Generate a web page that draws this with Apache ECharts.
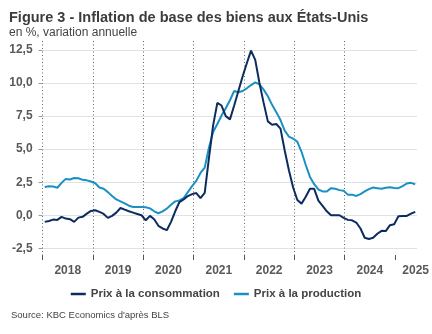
<!DOCTYPE html>
<html>
<head>
<meta charset="utf-8">
<script src="https://cdn.jsdelivr.net/npm/echarts@6/dist/echarts.min.js"></script>
<style>
  html, body { margin: 0; padding: 0; background: #ffffff; }
  #chart { width: 432px; height: 334px; }
</style>
</head>
<body>
<div id="chart"></div>
<script>
// Monthly year-on-year change (%), January 2018 to May 2025
const firstYear = 2018;

const consumption = [
  -0.5, -0.43, -0.33, -0.35, -0.12, -0.25, -0.3, -0.5, -0.18, -0.12, 0.12, 0.33,
  0.38, 0.25, 0.1, -0.2, -0.05, 0.2, 0.55, 0.43, 0.3, 0.2, 0.1, 0.0,
  -0.38, -0.05, -0.3, -0.8, -1.0, -1.13, -0.5, 0.3, 1.0, 1.2, 1.45, 1.6,
  1.68, 1.3, 1.7, 4.3, 6.8, 8.5, 8.3, 7.5, 7.25, 8.3, 9.4, 10.5,
  11.5, 12.45, 11.75, 10.0, 8.5, 7.1, 6.85, 6.9, 6.55, 4.9, 3.4, 2.1,
  1.15, 0.88, 1.4, 2.0, 2.0, 1.1, 0.7, 0.3, 0.0, 0.0, 0.0, -0.2,
  -0.35, -0.38, -0.55, -1.0, -1.7, -1.8, -1.7, -1.4, -1.18, -1.2, -0.75, -0.68,
  -0.08, -0.06, -0.05, 0.12, 0.25
];

const production = [
  2.14, 2.2, 2.18, 2.08, 2.45, 2.75, 2.7, 2.82, 2.8, 2.68, 2.64, 2.55,
  2.42, 2.1, 2.0, 1.75, 1.45, 1.2, 1.05, 0.9, 0.72, 0.63, 0.63, 0.63,
  0.6, 0.52, 0.3, 0.15, 0.3, 0.5, 0.8, 1.05, 1.12, 1.3, 1.75, 2.2,
  2.6, 3.2, 3.6, 5.1, 6.3, 6.9, 7.55, 8.1, 8.7, 9.4, 9.3, 9.4,
  9.6, 9.85, 10.05, 9.9, 9.5, 9.0, 8.35, 7.8, 7.2, 6.4, 5.95, 5.8,
  5.55, 4.8, 3.8, 2.9, 2.35, 1.95, 1.8, 1.8, 2.05, 2.0, 1.9, 1.85,
  1.56, 1.56, 1.46, 1.6, 1.8, 1.98, 2.1, 2.05, 2.0, 2.08, 2.12, 2.06,
  2.05, 2.2, 2.4, 2.45, 2.35
];

const yearTicks = [2018, 2019, 2020, 2021, 2022, 2023, 2024, 2025];
const valueTicks = [-2.5, 0, 2.5, 5, 7.5, 10, 12.5];

const seriesNames = ['Prix à la consommation', 'Prix à la production'];
const colors = ['#0c2c5f', '#1b90c5'];

// each monthly value sits in the middle of its month
const toPoints = arr => arr.map((v, i) => [firstYear + (i + 0.5) / 12, v]);

const xMin = 2018;
const xMax = 2025.41;
// year labels centred on each year, the last one held inside the plot
const yearLabelValues = yearTicks.map(y => Math.min(y + 0.5, xMax));

const labelFont = 'Liberation Sans, Arial, sans-serif';

const chart = echarts.init(document.getElementById('chart'), null, { renderer: 'canvas' });

chart.setOption({
  animation: false,
  backgroundColor: '#ffffff',
  graphic: [
    { type: 'text', left: 9, top: 10,
      style: { text: 'Figure 3 - Inflation de base des biens aux États-Unis',
               font: 'bold 14.5px ' + labelFont, fill: '#3c3c3c' } },
    { type: 'text', left: 9, top: 27,
      style: { text: 'en %, variation annuelle',
               font: '12px ' + labelFont, fill: '#444444' } },
    { type: 'text', left: 11, top: 310,
      style: { text: "Source: KBC Economics d'après BLS",
               font: '9.5px ' + labelFont, fill: '#444444' } }
  ],
  legend: {
    left: 'center',
    top: 283,
    icon: 'rect',
    itemWidth: 15,
    itemHeight: 2.5,
    itemGap: 14,
    textStyle: { fontFamily: labelFont, fontWeight: 'bold', fontSize: 11.5, color: '#444444' },
    data: seriesNames
  },
  grid: [
    { left: 42.6, right: 15, top: 50, height: 198.3, containLabel: false },
    { left: 42.6, right: 15, top: 41, height: 214, containLabel: false }
  ],
  xAxis: [
    {
      gridIndex: 0, type: 'value', min: xMin, max: xMax,
      axisLine: { show: false }, axisTick: { show: false },
      axisLabel: { show: false }, splitLine: { show: false }
    },
    {
      gridIndex: 1, type: 'value', min: xMin, max: xMax, interval: 1,
      axisLine: { show: false },
      axisTick: { show: true, length: 5, customValues: yearTicks,
                  lineStyle: { color: '#555555', width: 1 } },
      axisLabel: {
        show: true, margin: 10, customValues: yearLabelValues,
        formatter: v => String(Math.floor(v)),
        fontFamily: labelFont, fontWeight: 'bold', fontSize: 12, color: '#595959'
      },
      splitLine: { show: true, showMaxLine: false,
                   lineStyle: { type: [1, 2.5], color: '#666666', width: 1 } }
    }
  ],
  yAxis: [
    {
      gridIndex: 0, type: 'value', min: -2.5, max: 12.5, interval: 2.5,
      axisLine: { show: false },
      axisTick: { show: true, length: 4, lineStyle: { color: '#9a9a9a' } },
      axisLabel: {
        margin: 10,
        formatter: v => v.toFixed(1).replace('.', ','),
        fontFamily: labelFont, fontWeight: 'bold', fontSize: 12, color: '#595959'
      },
      splitLine: { show: true, lineStyle: { color: '#e2e2e2', width: 1 } }
    },
    {
      gridIndex: 1, type: 'value', min: 0, max: 1, show: false
    }
  ],
  series: [
    {
      name: seriesNames[0], type: 'line', xAxisIndex: 0, yAxisIndex: 0,
      data: toPoints(consumption), showSymbol: false, symbol: 'none',
      lineStyle: { color: colors[0], width: 2 }, itemStyle: { color: colors[0] }, z: 4
    },
    {
      name: seriesNames[1], type: 'line', xAxisIndex: 0, yAxisIndex: 0,
      data: toPoints(production), showSymbol: false, symbol: 'none',
      lineStyle: { color: colors[1], width: 2 }, itemStyle: { color: colors[1] }, z: 3
    }
  ]
});
</script>
</body>
</html>
